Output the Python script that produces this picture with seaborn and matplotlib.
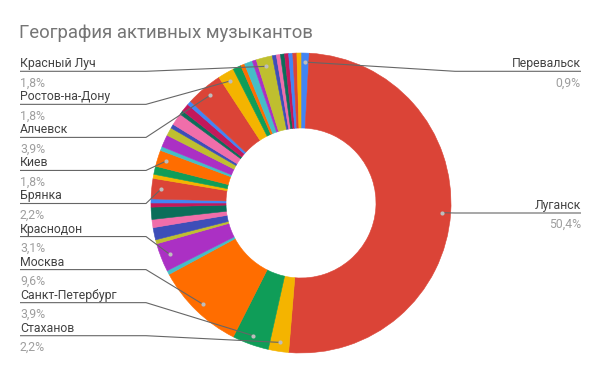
import matplotlib
matplotlib.use("Agg")
import matplotlib.pyplot as plt
import seaborn as sns
import numpy as np

# slices clockwise from the top, counts of musicians per city
slice_names = [
    "Перевальск", "Луганск", "Стаханов", "Санкт-Петербург", "Москва", "", "Краснодон",
    "", "", "", "", "", "", "Брянка", "", "", "Киев", "", "", "", "", "", "", "", "",
    "Алчевск", "Ростов-на-Дону", "", "", "", "", "Красный Луч",
    "", "", "", "", "", "", "",
]
slice_counts = [
    2, 115, 5, 9, 22, 1, 7,
    1, 3, 2, 3, 1, 1, 5, 1, 2, 4, 1, 3, 2, 1, 3, 1, 2, 1,
    9, 4, 2, 1, 2, 1, 4,
    1, 1, 1, 1, 1, 1, 1,
]
left_labels = ["Красный Луч", "Ростов-на-Дону", "Алчевск", "Киев", "Брянка",
               "Краснодон", "Москва", "Санкт-Петербург", "Стаханов"]
right_labels = ["Перевальск", "Луганск"]

palette_hex = ["#4285f4", "#db4437", "#f4b400", "#0f9d58", "#ff6d00", "#46bdc6",
               "#ab30c4", "#bfbf2f", "#3d4eb8", "#f06eaa", "#0b6e5a", "#c2185b"]

sns.set_theme(style="white")
plt.rcParams["font.family"] = ["Roboto", "DejaVu Sans"]

H = 371
colors = sns.color_palette(palette_hex, len(palette_hex))
slice_colors = [colors[i % len(colors)] for i in range(len(slice_counts))]

fig = plt.figure(figsize=(6, 3.71), dpi=100)
ax = fig.add_axes([0, 0, 1, 1])

cx, cy, R = 301, H - 203, 150
wedges, _ = ax.pie(slice_counts, colors=slice_colors, startangle=90, counterclock=False,
                   center=(cx, cy), radius=R, wedgeprops=dict(width=75, linewidth=0.4))
for w in wedges:
    w.set_edgecolor(w.get_facecolor())

ax.set_xlim(0, 600)
ax.set_ylim(0, H)
ax.axis("off")

total = sum(slice_counts)
cum = np.cumsum([0] + slice_counts[:-1])


def anchor(name):
    i = slice_names.index(name)
    ang = np.deg2rad(360 * (cum[i] + slice_counts[i] / 2) / total)
    rd = 141
    return cx + rd * np.sin(ang), cy + rd * np.cos(ang), 100 * slice_counts[i] / total


def pct(v):
    return f"{v:.1f}".replace(".", ",") + "%"


line_c = "#666666"
dot_c = "#bdbdbd"
fs = 8.8

fig.text(19 / 600, 1 - 38 / H, "География активных музыкантов", fontsize=13.3,
         color="#757575", ha="left", va="baseline")

for k, name in enumerate(left_labels):
    ly = H - (71.3 + 33.05 * k)
    dx, dy, v = anchor(name)
    ax.plot([20, 146, dx], [ly, ly, dy], color=line_c, lw=0.8, solid_capstyle="butt")
    ax.scatter([dx], [dy], s=9, color=dot_c, zorder=5, linewidths=0)
    ax.text(20, ly + 4, name, fontsize=fs, color="#424242", ha="left", va="baseline")
    ax.text(20, ly - 15, pct(v), fontsize=fs, color="#9e9e9e", ha="left", va="baseline")

for name, ly_img in zip(right_labels, [71.3, 213]):
    ly = H - ly_img
    dx, dy, v = anchor(name)
    ex = max(455, dx)
    ax.plot([581, ex, dx], [ly, ly, dy], color=line_c, lw=0.8, solid_capstyle="butt")
    ax.scatter([dx], [dy], s=9, color=dot_c, zorder=5, linewidths=0)
    ax.text(581, ly + 4, name, fontsize=fs, color="#424242", ha="right", va="baseline")
    ax.text(581, ly - 15, pct(v), fontsize=fs, color="#9e9e9e", ha="right", va="baseline")

fig.savefig("out.png", dpi=100)
